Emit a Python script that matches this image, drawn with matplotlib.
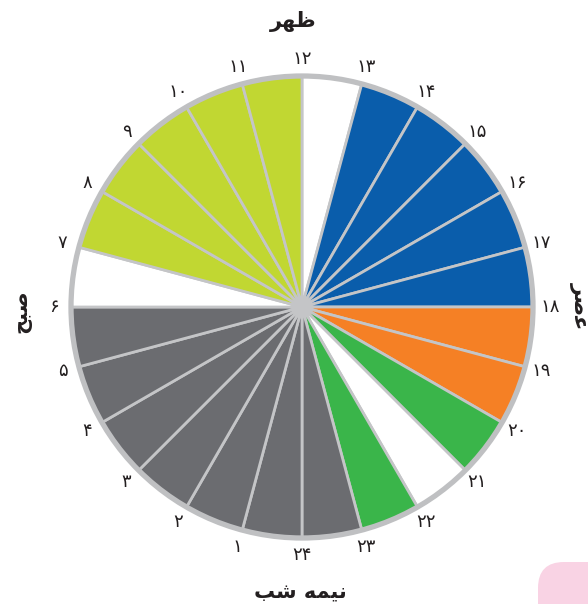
import matplotlib
matplotlib.use("Agg")
import numpy as np
import matplotlib.pyplot as plt
from matplotlib.patches import Circle, FancyBboxPatch

# 24 equal hour slots, clockwise from 12 (top)
slot_colors = (["#ffffff"] + ["#0a5dab"] * 5 + ["#f58025"] * 2 + ["#3ab54a", "#ffffff", "#3ab54a"]
               + ["#6b6c70"] * 7 + ["#ffffff"] + ["#c1d732"] * 5)
slot_sizes = [1] * 24
hour_labels = [12, 13, 14, 15, 16, 17, 18, 19, 20, 21, 22, 23, 24, 1, 2, 3, 4, 5, 6, 7, 8, 9, 10, 11]

# Persian words, in presentation forms written left to right
noon = "\uFEAE\uFEEC\uFEC7"          # ظهر
afternoon = "\uFEAE\uFEBB\uFECB"     # عصر
morning = "\uFEA2\uFE92\uFEBB"       # صبح
midnight = "\uFE90\uFEB7 \uFEEA\uFEE4\uFEF4\uFEE7"  # نیمه شب

fa_digits = str.maketrans("0123456789", "۰۱۲۳۴۵۶۷۸۹")

W, H = 588, 604
cx, cy, R = 302, H - 307, 231

fig = plt.figure(figsize=(W / 100, H / 100), dpi=100)
ax = fig.add_axes([0, 0, 1, 1])

ax.pie(slot_sizes, colors=slot_colors, startangle=90, counterclock=False,
       center=(cx, cy), radius=R,
       wedgeprops=dict(edgecolor="#c4c5c7", linewidth=2.0))
# pie() resets the limits, so set them afterwards
ax.set_xlim(0, W)
ax.set_ylim(0, H)
ax.set_aspect("equal")
ax.axis("off")
ax.add_patch(Circle((cx, cy), R, fill=False, edgecolor="#bfc0c2", linewidth=3.8, zorder=5))

for i, h in enumerate(hour_labels):
    ang = np.deg2rad(90 - i * 15)
    ax.text(cx + 248 * np.cos(ang), cy + 248 * np.sin(ang), str(h).translate(fa_digits),
            ha="center", va="center", fontsize=13, color="#231f20", family="DejaVu Sans")

title_kw = dict(ha="center", va="center", fontsize=15, fontweight="bold",
                color="#231f20", family="DejaVu Sans")
ax.text(293, H - 22, noon, **title_kw)
ax.text(300, H - 592, midnight, **title_kw)
ax.text(21, H - 311, morning, rotation=90, **title_kw)
ax.text(580, H - 306, afternoon, rotation=-90, **title_kw)

# pink card corner peeking in at bottom right
ax.add_patch(FancyBboxPatch((538, -40), 120, 82, boxstyle="round,pad=0,rounding_size=26",
                            facecolor="#f9d3e4", edgecolor="none", clip_on=True))

fig.savefig("out.png", dpi=100)
